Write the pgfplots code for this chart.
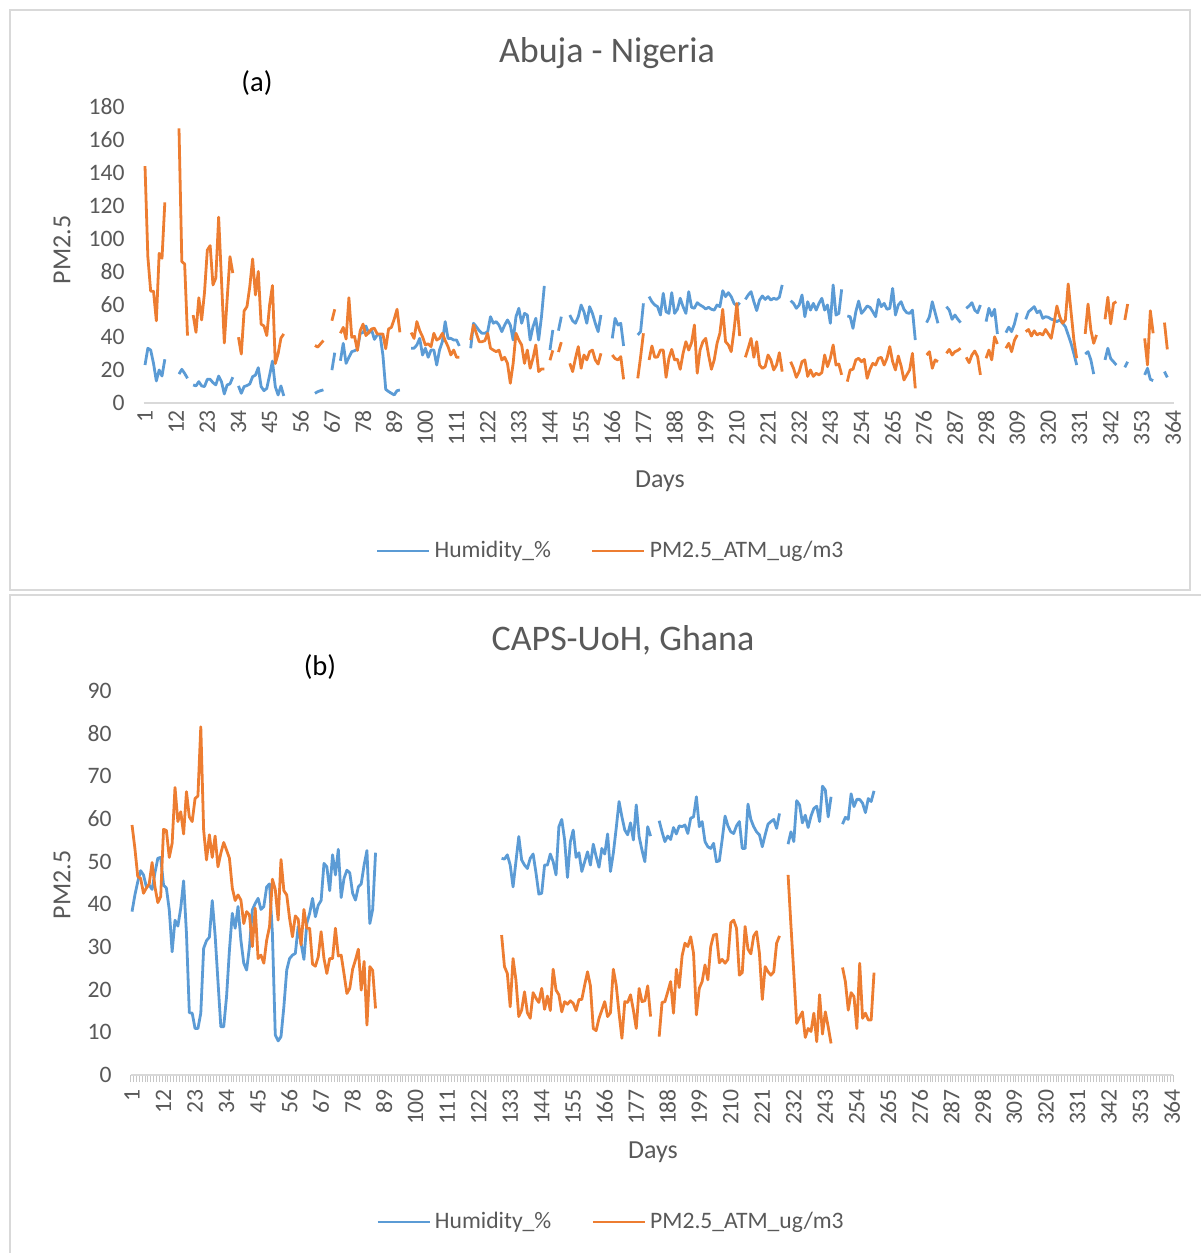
\documentclass[border=0pt]{standalone}
\usepackage{pgfplots}
\pgfplotsset{compat=1.18}
\usepackage{fontspec}
\setmainfont{Carlito}
\definecolor{hblue}{RGB}{91,155,213}
\definecolor{porange}{RGB}{237,125,49}
\definecolor{txt}{RGB}{89,89,89}
\definecolor{axisgray}{RGB}{217,217,217}
\pgfplotsset{
  panel/.style={
    scale only axis, anchor=south west,
    xmin=0.5, xmax=364.5,
    axis x line*=bottom, axis y line*=left,
    y axis line style={draw=none},
    x axis line style={draw=axisgray, line width=1pt},
    xtick={1,12,...,364},
    major tick length=0pt,
    tick label style={font=\fontsize{11.8}{12}\selectfont, text=txt},
    /pgf/number format/assume math mode=true,
    xticklabel style={rotate=90, anchor=east},
    yticklabel shift=6pt,
    unbounded coords=jump,
    legend cell align=left,
    legend style={draw=none, fill=none, legend columns=2, font=\fontsize{11.8}{12}\selectfont, text=txt, /tikz/every even column/.append style={column sep=18pt}},
    legend image code/.code={\draw[##1] (0pt,0pt) -- (26pt,0pt);},
  },
  hum/.style={color=hblue, line width=1.4pt, line join=round, no marks},
  pm/.style={color=porange, line width=1.4pt, line join=round, no marks},
}
\begin{document}
\begin{tikzpicture}
\path[use as bounding box] (0pt,0pt) rectangle (600pt,-626.5pt);
\draw[axisgray, line width=0.8pt] (5pt,-5pt) rectangle (595pt,-295pt);
\draw[axisgray, line width=0.8pt] (5pt,-630pt) -- (5pt,-297.5pt) -- (605pt,-297.5pt);
% ---------- top panel ----------
\begin{axis}[panel, at={(71.8pt,-201.5pt)}, width=515.4pt, height=148pt,
  ymin=0, ymax=180, ytick={0,20,...,180},
  legend style={at={(0.454,-0.5)}, anchor=center}]
\addplot[hum] coordinates {
(1,23.1)(2,33.3)(3,32.2)(4,24.1)(5,13.4)(6,20.1)(7,16.4)(8,26.6)(9,nan)
(13,17.6)(14,20.5)(15,18)(16,15)(17,nan)
(18,11)(19,10.4)(20,13)(21,10.4)(22,10)(23,14.4)(24,14.4)(25,12.4)(26,11)(27,16.4)(28,13)(29,5.5)(30,11)(31,11.6)(32,15.7)(33,nan)
(34,10.4)(35,5.9)(36,10)(37,10.6)(38,11.6)(39,16)(40,17)(41,21.5)(42,10)(43,7.5)(44,8.9)(45,17)(46,25.5)(47,10)(48,4.9)(49,10.4)(50,4.3)(51,nan)
(61,5.9)(62,6.9)(63,7.5)(64,8)(65,nan)
(67,20)(68,30.6)(69,nan)
(70,25.7)(71,36.3)(72,24.1)(73,27.8)(74,31.2)(75,31.8)(76,32.6)(77,42.4)(78,42.8)(79,46.8)(80,42.4)(81,44.6)(82,38.7)(83,41.4)(84,41.4)(85,29.2)(86,8.3)(87,7)(88,5.9)(89,4.9)(90,7.5)(91,7.9)(92,nan)
(95,33.3)(96,33.3)(97,35.3)(98,39.3)(99,29.2)(100,33.3)(101,27.8)(102,32.2)(103,32.2)(104,23.1)(105,32.2)(106,37.3)(107,49.5)(108,39.3)(109,39.3)(110,38.3)(111,38.3)(112,34.7)(113,nan)
(116,33.3)(117,48.5)(118,46.4)(119,44)(120,42.4)(121,42.4)(122,43.4)(123,52.5)(124,48.5)(125,49.5)(126,47.4)(127,43.4)(128,47.4)(129,50.5)(130,47.4)(131,38.3)(132,52.5)(133,57.6)(134,48.5)(135,54.5)(136,53.5)(137,38.3)(138,46.4)(139,51.5)(140,38.3)(141,52.5)(142,71.2)(143,nan)
(144,32.2)(145,44.4)(146,nan)(147,44)(148,52.5)(149,nan)
(151,53.5)(152,50)(153,48.5)(154,52.5)(155,59.6)(156,55.5)(157,48.5)(158,58.6)(159,54.5)(160,48.5)(161,43.4)(162,53.5)(163,nan)
(166,39.3)(167,51.5)(168,47.4)(169,48.5)(170,34.7)(171,nan)
(175,41.4)(176,43.4)(177,60.6)(178,nan)
(179,64.7)(180,61.6)(181,59.6)(182,58.6)(183,53.5)(184,66.7)(185,55.5)(186,54.5)(187,67.1)(188,54.5)(189,57)(190,63.7)(191,58.6)(192,54.5)(193,67.7)(194,58.2)(195,57.6)(196,61)(197,59.6)(198,58.6)(199,57.2)(200,58.2)(201,57)(202,56.5)(203,59.6)(204,58.6)(205,68.3)(206,64.7)(207,67.1)(208,64.7)(209,60.6)(210,59)(211,61)(212,nan)
(213,63)(214,65.7)(215,67.7)(216,61.6)(217,56.2)(218,62.6)(219,65.1)(220,63)(221,64.7)(222,62.6)(223,63.7)(224,63)(225,64.3)(226,71.8)(227,nan)
(229,62.2)(230,60.6)(231,57.6)(232,59.6)(233,65.7)(234,52.5)(235,61.6)(236,56.5)(237,60.6)(238,56.5)(239,60.6)(240,63.7)(241,56.5)(242,59.6)(243,48.5)(244,71.8)(245,53.5)(246,54.5)(247,69.1)(248,nan)
(249,52.9)(250,52.5)(251,45.4)(252,55.5)(253,62)(254,54.5)(255,56.5)(256,59)(257,58.2)(258,55.5)(259,52.5)(260,63)(261,58.6)(262,60.6)(263,57)(264,57.6)(265,69.7)(266,53.5)(267,59.6)(268,61.6)(269,57)(270,54.9)(271,54.5)(272,56.5)(273,38.3)(274,nan)
(277,48.9)(278,52.5)(279,61.6)(280,55)(281,48.5)(282,nan)
(284,58.6)(285,56.5)(286,50.9)(287,53.5)(288,51)(289,48.9)(290,nan)
(291,57.6)(292,59)(293,61)(294,56.5)(295,54.9)(296,59.6)(297,nan)
(298,49.5)(299,57.6)(300,52.9)(301,57)(302,42)(303,nan)
(305,42.8)(306,46.1)(307,43.4)(308,48)(309,54.9)(310,nan)
(312,50.9)(313,55.5)(314,57)(315,58.6)(316,54.9)(317,56.1)(318,51.5)(319,52.5)(320,52.1)(321,51)(322,50.5)(323,49.5)(324,50.5)(325,48.5)(326,46.4)(327,41.4)(328,36.3)(329,30)(330,23.1)(331,nan)
(333,29.8)(334,31.2)(335,26.2)(336,17.6)(337,nan)
(340,26.2)(341,33.3)(342,27)(343,25.1)(344,23.1)(345,nan)
(347,21.7)(348,25.1)(349,nan)
(354,17.1)(355,21.1)(356,14.4)(357,13.6)(358,nan)
(361,19.1)(362,15.6)
};
\addlegendentry{Humidity\_\%}
\addplot[pm] coordinates {
(1,144)(2,89)(3,68)(4,68)(5,50)(6,91)(7,88)(8,122)(9,nan)
(13,167)(14,86)(15,84.5)(16,41)(17,nan)
(18,53.5)(19,43)(20,64)(21,50.5)(22,67)(23,93)(24,95.7)(25,71.8)(26,76)(27,113)(28,75)(29,36.5)(30,63)(31,89)(32,79)(33,nan)
(34,40)(35,29.8)(36,56)(37,58.6)(38,70.8)(39,87.6)(40,65.7)(41,80)(42,48)(43,46.8)(44,41)(45,59.6)(46,71.4)(47,24)(48,30)(49,39.5)(50,42)(51,nan)
(61,35)(62,34)(63,36)(64,38)(65,nan)
(67,50)(68,57)(69,nan)
(70,42.4)(71,46)(72,38.9)(73,64)(74,40)(75,40.5)(76,32)(77,44)(78,48)(79,41)(80,43)(81,45)(82,45.5)(83,42)(84,42)(85,42)(86,33)(87,45)(88,46)(89,51)(90,57)(91,43)(92,nan)
(95,42.8)(96,39.3)(97,49.5)(98,44)(99,40.3)(100,35.3)(101,36)(102,34.3)(103,42.4)(104,38.3)(105,39.3)(106,42.4)(107,38)(108,34.3)(109,29.2)(110,32.2)(111,27.8)(112,27.8)(113,nan)
(116,38.3)(117,47.4)(118,42.4)(119,37.3)(120,37.3)(121,37.9)(122,42.4)(123,33.3)(124,32.2)(125,31.2)(126,32.2)(127,26.2)(128,27.8)(129,24.1)(130,12)(131,24.1)(132,42.4)(133,38.3)(134,35.3)(135,24.1)(136,32.2)(137,21.1)(138,27.2)(139,35.3)(140,19.1)(141,20.7)(142,20.7)(143,nan)
(144,26)(145,32)(146,nan)(147,31)(148,37)(149,nan)
(151,24.1)(152,19.1)(153,27.2)(154,34.3)(155,21.1)(156,29.2)(157,26.2)(158,31.2)(159,32.2)(160,26.2)(161,23.7)(162,30.2)(163,nan)
(166,29.2)(167,27)(168,26.2)(169,28.2)(170,14.4)(171,nan)
(175,15)(176,28)(177,42.4)(178,nan)
(179,26.2)(180,34.7)(181,27.8)(182,28)(183,32.2)(184,32.2)(185,15.6)(186,27.2)(187,32.6)(188,26.2)(189,26.6)(190,20.5)(191,30.2)(192,37.3)(193,32.2)(194,36.7)(195,47.4)(196,18.1)(197,32.2)(198,37.3)(199,39.3)(200,29.2)(201,20.5)(202,26.2)(203,36.3)(204,42.4)(205,57)(206,37.3)(207,35.3)(208,31.2)(209,44.4)(210,60.6)(211,40.7)(212,nan)
(213,27.8)(214,33.3)(215,39.3)(216,27.8)(217,37.3)(218,23.1)(219,21.1)(220,22.1)(221,29.2)(222,26.2)(223,20.1)(224,23.1)(225,30.6)(226,19.1)(227,nan)
(229,25.1)(230,21.1)(231,15.6)(232,19.1)(233,25.1)(234,26.2)(235,16.2)(236,20.1)(237,16.2)(238,18.1)(239,17.1)(240,18.5)(241,29.2)(242,22.1)(243,27.2)(244,35.3)(245,23.1)(246,23.7)(247,17.1)(248,nan)
(249,13)(250,20.1)(251,20.5)(252,26.2)(253,27.2)(254,25.1)(255,26.6)(256,15)(257,20.5)(258,24.1)(259,23.1)(260,27.2)(261,27.8)(262,23.1)(263,27.2)(264,34.3)(265,25.1)(266,20.1)(267,28.6)(268,22.5)(269,14)(270,17.1)(271,20.1)(272,30.2)(273,8.9)(274,nan)
(277,29.2)(278,31.2)(279,21.1)(280,26.2)(281,25.1)(282,nan)
(284,30.2)(285,32.6)(286,29.2)(287,31.2)(288,32)(289,33.3)(290,nan)
(291,27.8)(292,24.5)(293,29.2)(294,31.6)(295,28.2)(296,17.1)(297,nan)
(298,27.2)(299,32.2)(300,26.2)(301,40.3)(302,35.9)(303,nan)
(305,33.3)(306,36.3)(307,31.2)(308,38)(309,41.4)(310,nan)
(312,43.4)(313,44.7)(314,40.7)(315,43.9)(316,41.4)(317,42.4)(318,41.4)(319,44.7)(320,42)(321,39.3)(322,48.5)(323,59)(324,52.5)(325,48.5)(326,50.5)(327,72.4)(328,55.5)(329,38.3)(330,27.2)(331,nan)
(333,42)(334,60.2)(335,44.4)(336,36.3)(337,41.4)(338,nan)
(340,50.9)(341,64.3)(342,48.1)(343,60.6)(344,61.6)(345,nan)
(347,50.5)(348,60.2)(349,nan)
(354,39.3)(355,23.1)(356,56.1)(357,42.4)(358,nan)
(361,48.9)(362,32.6)
};
\addlegendentry{PM2.5\_ATM\_ug/m3}
\end{axis}
% ---------- bottom panel ----------
\begin{axis}[panel, at={(65.3pt,-537.5pt)}, width=521.4pt, height=192pt,
  ymin=0, ymax=90, ytick={0,10,...,90},
  minor xtick={0.5,1.5,...,364.5}, xtick align=outside,
  minor tick length=3.5pt,
  every minor tick/.append style={draw=black!22, line width=0.35pt},
  xticklabel shift=3.5pt,
  legend style={at={(0.4616,-0.383)}, anchor=center}]
\addplot[hum] coordinates {
(1,38.3)(2,42.2)(3,45.3)(4,47.9)(5,46.9)(6,44.1)(7,44.5)(8,43.5)(9,47.4)(10,50.8)(11,51)(12,44.5)(13,43.8)(14,38.7)(15,28.9)(16,36.3)(17,34.9)(18,39.1)(19,45.5)(20,33.2)(21,14.6)(22,14.5)(23,10.9)(24,10.9)(25,14.5)(26,29.7)(27,31.5)(28,32.3)(29,40.9)(30,32.8)(31,21.9)(32,11.3)(33,11.3)(34,18.4)(35,29.3)(36,37.9)(37,34.4)(38,39.5)(39,31.6)(40,26.2)(41,24.6)(42,30.1)(43,38.7)(44,40.2)(45,41.4)(46,38.8)(47,39.5)(48,44.1)(49,44.8)(50,33.2)(51,9.4)(52,8)(53,9)(54,16)(55,24.6)(56,27.3)(57,28.1)(58,28.5)(59,34.8)(60,30.9)(61,27.1)(62,35.5)(63,37.9)(64,41.4)(65,37.1)(66,39.8)(67,40.9)(68,49.6)(69,48.8)(70,43.2)(71,51.6)(72,46.9)(73,52.9)(74,41.6)(75,46.1)(76,48)(77,47.4)(78,42.6)(79,41)(80,44.1)(81,44.8)(82,49.2)(83,52.6)(84,35.5)(85,38.8)(86,52.1)(87,nan)
(130,50.8)(131,50.6)(132,51.6)(133,49.2)(134,44.1)(135,50)(136,55.9)(137,50.4)(138,49.2)(139,48.4)(140,50.8)(141,51.8)(142,47.4)(143,42.4)(144,42.6)(145,49.2)(146,49.2)(147,51.8)(148,50)(149,46.9)(150,58.2)(151,59.9)(152,55.1)(153,46.3)(154,54.7)(155,57.4)(156,51)(157,52.1)(158,47.7)(159,50)(160,52.3)(161,49.2)(162,54.1)(163,51.2)(164,48.7)(165,53.1)(166,51.8)(167,56.5)(168,47.7)(169,52)(170,57.8)(171,64.1)(172,60.5)(173,57.4)(174,56.3)(175,59.1)(176,55.1)(177,63.3)(178,55.9)(179,52.7)(180,50)(181,58.2)(182,56)(183,nan)
(185,59.6)(186,57)(187,54.7)(188,56)(189,55.2)(190,58)(191,56.5)(192,58.4)(193,58.2)(194,58.6)(195,56.6)(196,60.2)(197,60.5)(198,65.2)(199,58.2)(200,59.4)(201,54.7)(202,53.5)(203,53.1)(204,54.3)(205,50)(206,50.2)(207,55.2)(208,60.7)(209,58.4)(210,57)(211,56.6)(212,58.4)(213,59.4)(214,53.1)(215,53.1)(216,63.5)(217,59.9)(218,58.2)(219,57)(220,56.3)(221,53.5)(222,56.3)(223,58.8)(224,59.4)(225,59.9)(226,57.8)(227,61.3)(228,nan)
(230,54.1)(231,57)(232,54.7)(233,64.3)(234,63.3)(235,59.1)(236,60.9)(237,58)(238,60.7)(239,62.5)(240,63)(241,59.4)(242,67.7)(243,66.8)(244,60.5)(245,65.2)(246,nan)
(249,58.8)(250,60.4)(251,59.9)(252,65.9)(253,62.9)(254,64.6)(255,64.6)(256,63.7)(257,61.5)(258,64.8)(259,64.1)(260,66.6)
};
\addlegendentry{Humidity\_\%}
\addplot[pm] coordinates {
(1,58.6)(2,53.1)(3,46.5)(4,46.1)(5,42.6)(6,43.8)(7,44.8)(8,49.8)(9,44.1)(10,40.4)(11,41.8)(12,57.6)(13,57.3)(14,51)(15,54.3)(16,67.4)(17,59.4)(18,61.7)(19,56.5)(20,66.4)(21,60.5)(22,59.4)(23,64.8)(24,65.4)(25,81.6)(26,57.4)(27,50.4)(28,56.3)(29,51)(30,56)(31,48.8)(32,52)(33,54.5)(34,52.7)(35,50.8)(36,43.8)(37,40.9)(38,42.2)(39,41)(40,35.5)(41,38.3)(42,37.5)(43,30.1)(44,39.1)(45,27.3)(46,28.1)(47,26.2)(48,31.6)(49,34.8)(50,45.9)(51,43.5)(52,36.3)(53,50.5)(54,43.2)(55,42.2)(56,36.7)(57,32.4)(58,37.3)(59,36.5)(60,30.5)(61,38.8)(62,34.4)(63,34.4)(64,26)(65,25.5)(66,27.7)(67,33.6)(68,27.3)(69,23.8)(70,27.3)(71,27.3)(72,34.4)(73,27.9)(74,28.1)(75,23.7)(76,19.1)(77,20.3)(78,24.8)(79,27)(80,29.5)(81,19.9)(82,26.6)(83,11.7)(84,25.4)(85,24.5)(86,15.6)(87,nan)
(130,32.8)(131,25.4)(132,23.8)(133,16)(134,27.3)(135,22.3)(136,13.7)(137,15.2)(138,19.5)(139,14.6)(140,13.3)(141,19.3)(142,18)(143,17)(144,20.3)(145,15.4)(146,18.5)(147,15.1)(148,24.8)(149,19.9)(150,18.8)(151,14.8)(152,17.2)(153,16.6)(154,17.4)(155,16.8)(156,15.1)(157,17.7)(158,17.7)(159,21.1)(160,24.2)(161,20.9)(162,10.9)(163,10.4)(164,13.3)(165,15.2)(166,17.2)(167,13.7)(168,14.6)(169,24.8)(170,21.1)(171,14.5)(172,8.6)(173,17.2)(174,17)(175,18.8)(176,15.2)(177,10.9)(178,20.3)(179,17.2)(180,17.4)(181,20.9)(182,13.7)(183,nan)
(185,9)(186,17)(187,17.2)(188,19.5)(189,21.9)(190,14.5)(191,24.8)(192,20.5)(193,27.9)(194,30.9)(195,30.1)(196,32.4)(197,28.5)(198,14.1)(199,20.3)(200,21.9)(201,25.8)(202,22.3)(203,30.1)(204,32.8)(205,33)(206,26.3)(207,27.1)(208,26.2)(209,27.1)(210,35.7)(211,36.3)(212,34.4)(213,23.4)(214,24)(215,34.8)(216,29.5)(217,28.4)(218,32.6)(219,33.6)(220,28.5)(221,17.7)(222,25.4)(223,24.2)(224,23.4)(225,24.2)(226,30.9)(227,32.6)(228,nan)
(230,46.9)(231,35)(232,23.8)(233,12.1)(234,13.5)(235,14.8)(236,8.8)(237,10.9)(238,10.2)(239,14.5)(240,7.8)(241,18.8)(242,9.6)(243,14.8)(244,11.3)(245,7.4)(246,nan)
(249,25.2)(250,21.9)(251,15.2)(252,19.3)(253,18.4)(254,10.9)(255,26.2)(256,13.3)(257,14.5)(258,12.9)(259,12.9)(260,24)
};
\addlegendentry{PM2.5\_ATM\_ug/m3}
\end{axis}
% ---------- text ----------
\node[text=txt, font=\fontsize{18}{20}\selectfont] at (303.5pt,-26.5pt) {Abuja - Nigeria};
\node[text=black, font=\fontsize{14.3}{16}\selectfont] at (128.5pt,-41.5pt) {(a)};
\node[text=txt, font=\fontsize{13}{15}\selectfont] at (330pt,-240.5pt) {Days};
\node[text=txt, font=\fontsize{13}{15}\selectfont, rotate=90] at (31pt,-125pt) {PM2.5};
\node[text=txt, font=\fontsize{18}{20}\selectfont] at (311.5pt,-320pt) {CAPS-UoH, Ghana};
\node[text=black, font=\fontsize{14.3}{16}\selectfont] at (160pt,-333.5pt) {(b)};
\node[text=txt, font=\fontsize{13}{15}\selectfont] at (326.5pt,-576pt) {Days};
\node[text=txt, font=\fontsize{13}{15}\selectfont, rotate=90] at (31pt,-442.5pt) {PM2.5};
\end{tikzpicture}
\end{document}
